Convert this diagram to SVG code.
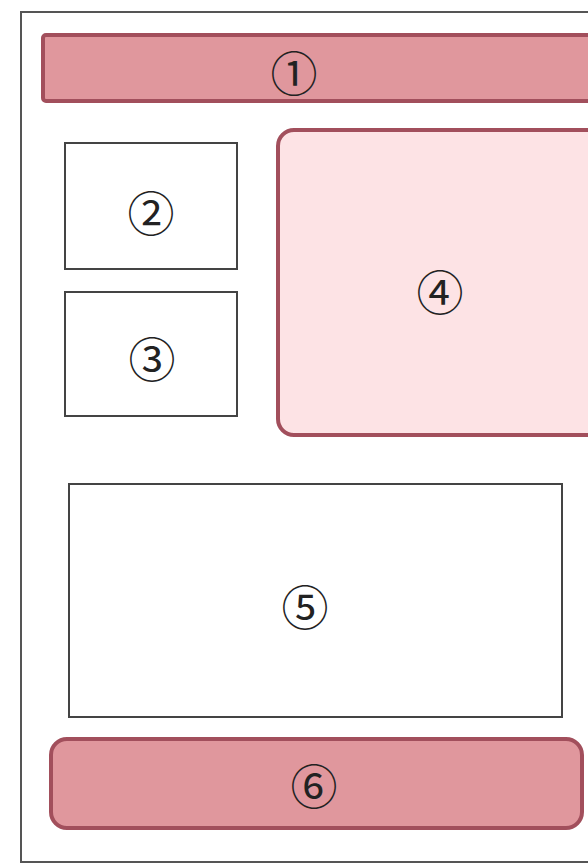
<svg xmlns="http://www.w3.org/2000/svg" width="588" height="865" viewBox="0 0 588 865">
<style>
.lbl{font-family:"Noto Sans CJK JP","DejaVu Sans",sans-serif;font-size:47px;fill:#222;text-anchor:middle;dominant-baseline:central}
.red{fill:#e0979d;stroke:#a24f5c;stroke-width:4}
.pink{fill:#fde3e5;stroke:#a24f5c;stroke-width:4}
.wb{fill:#fff;stroke:#444;stroke-width:2}
</style>
<rect width="588" height="865" fill="#fff"/>
<g id="frame"><rect x="21" y="12" width="580" height="850" fill="none" stroke="#555" stroke-width="2"/></g>
<g id="n1"><rect class="red" x="43" y="35" width="560" height="66" rx="3"/><text class="lbl" x="294" y="70">①</text></g>
<g id="n2"><rect class="wb" x="65" y="143" width="172" height="126"/><text class="lbl" x="151" y="210">②</text></g>
<g id="n3"><rect class="wb" x="65" y="292" width="172" height="124"/><text class="lbl" x="152" y="356">③</text></g>
<g id="n4"><rect class="pink" x="278" y="130" width="330" height="305" rx="16"/><text class="lbl" x="440" y="289">④</text></g>
<g id="n5"><rect class="wb" x="69" y="484" width="493" height="233"/><text class="lbl" x="305" y="604">⑤</text></g>
<g id="n6"><rect class="red" x="51" y="739" width="531" height="89" rx="16"/><text class="lbl" x="314" y="783">⑥</text></g>
<g id="connectors"></g>
</svg>
